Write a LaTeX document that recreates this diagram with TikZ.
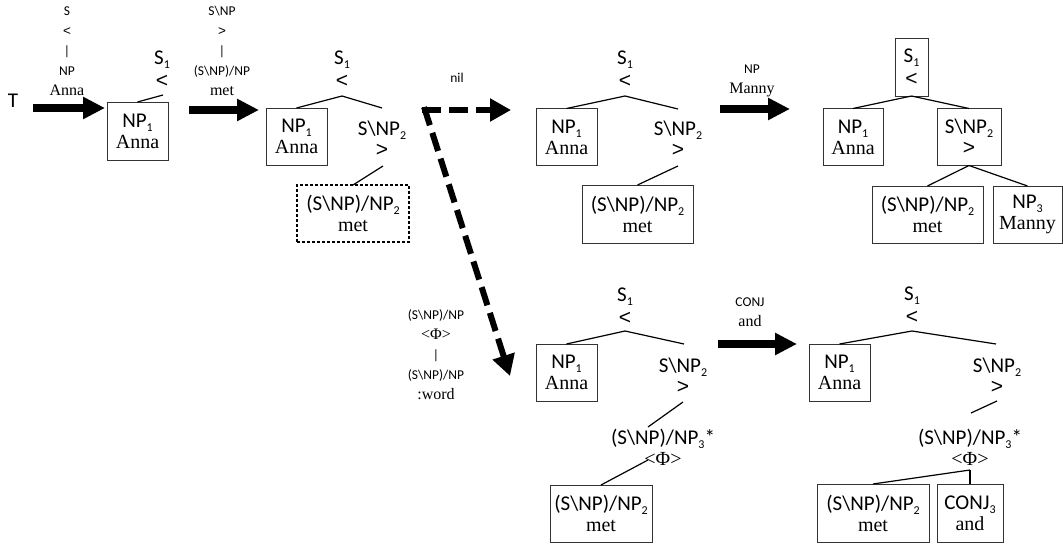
\documentclass[tikz,border=0pt]{standalone}
\usepackage{fontspec}
\usetikzlibrary{arrows.meta}
\newfontfamily\catf{Carlito}
\newfontfamily\wrdf{Liberation Serif}
\newfontfamily\symf{Liberation Sans}
\newcommand\sbs[1]{\raisebox{-4pt}{\fontsize{12}{12}\selectfont #1}}
\newcommand\bs{\textbackslash}
\newcommand\LT{{\symf <}}
\newcommand\GT{{\symf >}}
\newcommand\W[1]{{\wrdf\fontsize{20}{21}\selectfont #1}}
\newcommand\Ws[1]{{\wrdf\fontsize{16}{20}\selectfont #1}}
\newcommand\SLT{S\sbs{1}\\[2.5pt]\LT}
\tikzset{
  every node/.style={inner sep=0pt, outer sep=0pt},
  catn/.style={font=\catf\fontsize{21}{21}\selectfont, align=center},
  labn/.style={font=\catf\fontsize{13.5}{20}\selectfont, align=center},
  boxn/.style={catn, draw=black!80, line width=0.9pt},
  dboxn/.style={catn, draw=black, line width=1.1pt, dash pattern=on 3pt off 2pt},
  edgeln/.style={line width=1.2pt},
  bigarrow/.style={line width=8pt, -{Triangle[length=22pt,width=21pt]}},
  dasharrow/.style={line width=6pt, line cap=rect, dash pattern=on 13pt off 14pt, -{Triangle[length=21pt,width=22pt]}},
}
\begin{document}
\begin{tikzpicture}[x=1pt,y=-1pt]
\useasboundingbox[fill=white] (0,0) rectangle (1063,545);

% ---- start
\node[catn] (T) at (13,101) {T};
\node[labn] (l1) at (67,51) {S\\\LT\\|\\NP\\\Ws{Anna}};
\coordinate (a1s) at (33,108);
\coordinate (a1e) at (105,108);
\draw[bigarrow] (a1s) -- (a1e);

% ---- tree 1
\node[boxn, minimum width=61, minimum height=58] (b1) at (137.5,131) {NP\sbs{1}\\\W{Anna}};
\node[catn] (s1a) at (162,69) {\SLT};
\coordinate (j1) at (163,95);
\draw[edgeln] (j1) -- (b1.north);

% ---- arrow 2
\node[labn] (l2) at (222,51) {S\bs NP\\\GT\\|\\(S\bs NP)/NP\\\Ws{met}};
\coordinate (a2s) at (189,110);
\coordinate (a2e) at (259,110);
\draw[bigarrow] (a2s) -- (a2e);

% ---- tree 2
\node[catn] (t2r) at (342,69) {\SLT};
\coordinate (t2j) at (342,96);
\node[boxn, minimum width=61, minimum height=57] (t2a) at (296.5,136.5) {NP\sbs{1}\\\W{Anna}};
\node[catn] (t2b) at (382,139) {S\bs NP\sbs{2}\\\GT};
\coordinate (t2bt) at (382,108);
\coordinate (t2bj) at (383,166);
\node[dboxn, minimum width=112, minimum height=57] (t2c) at (353,213.5) {(S\bs NP)/NP\sbs{2}\\\W{met}};
\draw[edgeln] (t2j) -- (t2a.north);
\draw[edgeln] (t2j) -- (t2bt);
\draw[edgeln] (t2bj) -- (t2c.north);

% ---- dashed arrows
\coordinate (dc) at (425,110);
\coordinate (dn) at (511,110);
\coordinate (dd) at (510,376);
\draw[dasharrow] (dc) -- (dn);
\draw[dasharrow] (dc) -- (dd);
\node[labn] (nil) at (457,78) {nil};

% ---- tree 3
\node[catn] (t3r) at (625,69) {\SLT};
\coordinate (t3j) at (625,96);
\node[boxn, minimum width=61, minimum height=57] (t3a) at (566.5,137) {NP\sbs{1}\\\W{Anna}};
\node[catn] (t3b) at (678,139) {S\bs NP\sbs{2}\\\GT};
\coordinate (t3bt) at (678,109);
\coordinate (t3bj) at (678,166);
\node[boxn, minimum width=111, minimum height=58] (t3c) at (637.5,214) {(S\bs NP)/NP\sbs{2}\\\W{met}};
\draw[edgeln] (t3j) -- (t3a.north);
\draw[edgeln] (t3j) -- (t3bt);
\draw[edgeln] (t3bj) -- (t3c.north);

% ---- arrow 3
\node[labn] (l3) at (752,81) {NP\\\Ws{Manny}};
\coordinate (a3s) at (720,109);
\coordinate (a3e) at (790,109);
\draw[bigarrow] (a3s) -- (a3e);

% ---- tree 4
\node[boxn, minimum width=33, minimum height=58] (t4r) at (911.5,67) {\SLT};
\node[boxn, minimum width=60, minimum height=57] (t4a) at (853,137) {NP\sbs{1}\\\W{Anna}};
\node[boxn, minimum width=64, minimum height=57] (t4b) at (969,137) {S\bs NP\sbs{2}\\\GT};
\node[boxn, minimum width=111, minimum height=57] (t4c) at (927.5,214.5) {(S\bs NP)/NP\sbs{2}\\\W{met}};
\node[boxn, minimum width=69, minimum height=57] (t4d) at (1027.5,214.5) {NP\sbs{3}\\\W{Manny}};
\draw[edgeln] (t4r.south) -- (t4a.north);
\draw[edgeln] (t4r.south) -- (t4b.north);
\draw[edgeln] (t4b.south) -- (t4c.north);
\draw[edgeln] (t4b.south) -- (t4d.north);

% ---- bottom-left label
\node[labn] (l4) at (436,355) {(S\bs NP)/NP\\\Ws{<Φ>}\\|\\(S\bs NP)/NP\\\Ws{:word}};

% ---- tree 5
\node[catn] (t5r) at (625,306) {\SLT};
\coordinate (t5j) at (625,331);
\node[boxn, minimum width=61, minimum height=57] (t5a) at (566.5,372.5) {NP\sbs{1}\\\W{Anna}};
\coordinate (t5bt) at (684,344);
\node[catn] (t5b) at (683,376) {S\bs NP\sbs{2}\\\GT};
\coordinate (t5bj) at (683,402);
\coordinate (t5ct) at (648,427);
\node[catn] (t5c) at (663,447) {(S\bs NP)/NP\sbs{3}*\\\W{<Φ>}};
\coordinate (t5cj) at (648,460);
\node[boxn, minimum width=102, minimum height=57] (t5d) at (601,513.5) {(S\bs NP)/NP\sbs{2}\\\W{met}};
\draw[edgeln] (t5j) -- (t5a.north);
\draw[edgeln] (t5j) -- (t5bt);
\draw[edgeln] (t5bj) -- (t5ct);
\draw[edgeln] (t5cj) -- (t5d.north);

% ---- arrow 4
\node[labn] (l5) at (750,312) {CONJ\\\Ws{and}};
\coordinate (a4s) at (718,344);
\coordinate (a4e) at (797,344);
\draw[bigarrow] (a4s) -- (a4e);

% ---- tree 6
\node[catn] (t6r) at (912,305) {\SLT};
\coordinate (t6j) at (912,331);
\node[boxn, minimum width=61, minimum height=57] (t6a) at (839.5,372.5) {NP\sbs{1}\\\W{Anna}};
\coordinate (t6bt) at (996,344);
\node[catn] (t6b) at (997,376) {S\bs NP\sbs{2}\\\GT};
\coordinate (t6bj) at (997,401);
\coordinate (t6ct) at (971,413);
\node[catn] (t6c) at (970,447) {(S\bs NP)/NP\sbs{3}*\\\W{<Φ>}};
\coordinate (t6cj) at (970,470);
\node[boxn, minimum width=112, minimum height=58] (t6d) at (873,513) {(S\bs NP)/NP\sbs{2}\\\W{met}};
\node[boxn, minimum width=66, minimum height=58] (t6e) at (970,513) {CONJ\sbs{3}\\\W{and}};
\draw[edgeln] (t6j) -- (t6a.north);
\draw[edgeln] (t6j) -- (t6bt);
\draw[edgeln] (t6bj) -- (t6ct);
\draw[edgeln] (t6cj) -- (t6d.north);
\draw[edgeln] (t6cj) -- (t6e.north);
\end{tikzpicture}
\end{document}
